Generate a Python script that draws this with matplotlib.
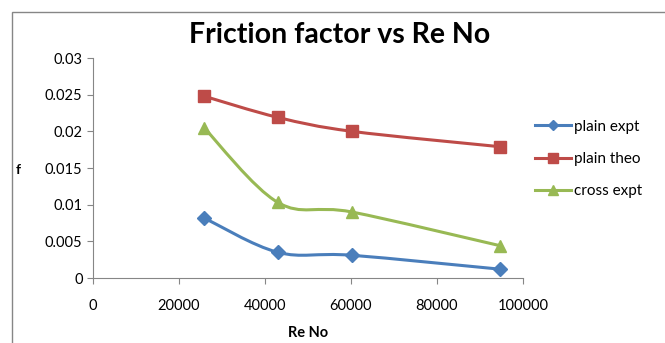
import numpy as np
import matplotlib.pyplot as plt
from matplotlib.path import Path
from matplotlib.patches import PathPatch, Rectangle
from matplotlib.lines import Line2D

# Reynolds numbers and friction factors for each series
re_no = [25800, 43000, 60200, 94700]
plain_expt = [0.0082, 0.0035, 0.0031, 0.0012]
plain_theo = [0.0248, 0.0219, 0.0200, 0.0179]
cross_expt = [0.0205, 0.0103, 0.0090, 0.0044]

series = [
    ('plain expt', plain_expt, '#4A7EBB', 'D', 7),
    ('plain theo', plain_theo, '#BE4B48', 's', 9),
    ('cross expt', cross_expt, '#98B954', '^', 9),
]

plt.rcParams['font.family'] = ['Lato', 'DejaVu Sans']


def smooth_path(x, y):
    # cubic bezier through the points, spreadsheet-style smoothed line
    x = np.asarray(x, float)
    y = np.asarray(y, float)
    n = len(x)
    verts = [(x[0], y[0])]
    codes = [Path.MOVETO]
    for i in range(n - 1):
        x0, y0 = (x[i - 1], y[i - 1]) if i > 0 else (x[i], y[i])
        x3, y3 = (x[i + 2], y[i + 2]) if i + 2 < n else (x[i + 1], y[i + 1])
        c1 = (x[i] + (x[i + 1] - x0) / 6, y[i] + (y[i + 1] - y0) / 6)
        c2 = (x[i + 1] - (x3 - x[i]) / 6, y[i + 1] - (y3 - y[i]) / 6)
        verts += [c1, c2, (x[i + 1], y[i + 1])]
        codes += [Path.CURVE4] * 3
    return Path(verts, codes)


fig = plt.figure(figsize=(6.65, 3.43), dpi=100)
fig.patches.append(Rectangle((12 / 665, -0.01), 1.0, 1 - 12 / 343 + 0.01,
                             transform=fig.transFigure, fill=False,
                             edgecolor='#868686', linewidth=1))

ax = fig.add_axes([93 / 665, 65 / 343, 430 / 665, 220 / 343])

handles = []
for name, vals, color, marker, ms in series:
    ax.add_patch(PathPatch(smooth_path(re_no, vals), fill=False,
                           edgecolor=color, linewidth=2.2, zorder=2))
    ax.plot(re_no, vals, linestyle='none', marker=marker, markersize=ms,
            color=color, zorder=3)
    handles.append(Line2D([], [], color=color, linewidth=2.2, marker=marker,
                          markersize=ms * 0.8, label=name))

ax.set_xlim(0, 100000)
ax.set_ylim(0, 0.03)
ax.set_xticks(np.arange(0, 100001, 20000))
ax.set_yticks(np.arange(0, 0.0301, 0.005))
ax.set_yticklabels(['0', '0.005', '0.01', '0.015', '0.02', '0.025', '0.03'])
ax.tick_params(axis='both', colors='#868686', labelcolor='black',
               labelsize=10.5, length=4)
ax.tick_params(axis='x', pad=11)
for side in ['top', 'right']:
    ax.spines[side].set_visible(False)
for side in ['left', 'bottom']:
    ax.spines[side].set_color('#868686')

fig.text(340 / 665, 1 - 35 / 343, 'Friction factor vs Re No',
         ha='center', va='center', fontsize=20.5, fontweight='bold')
fig.text(18 / 665, 1 - 170 / 343, 'f', ha='center', va='center',
         fontsize=10, fontweight='bold')
fig.text(308 / 665, 1 - 333 / 343, 'Re No', ha='center', va='center',
         fontsize=10.5, fontweight='bold')

fig.legend(handles=handles, loc='center left',
           bbox_to_anchor=(521 / 665, 1 - 159 / 343), frameon=False,
           fontsize=11, handlelength=2.4, handletextpad=0.15,
           labelspacing=1.2)

fig.savefig('out.png', dpi=100)
